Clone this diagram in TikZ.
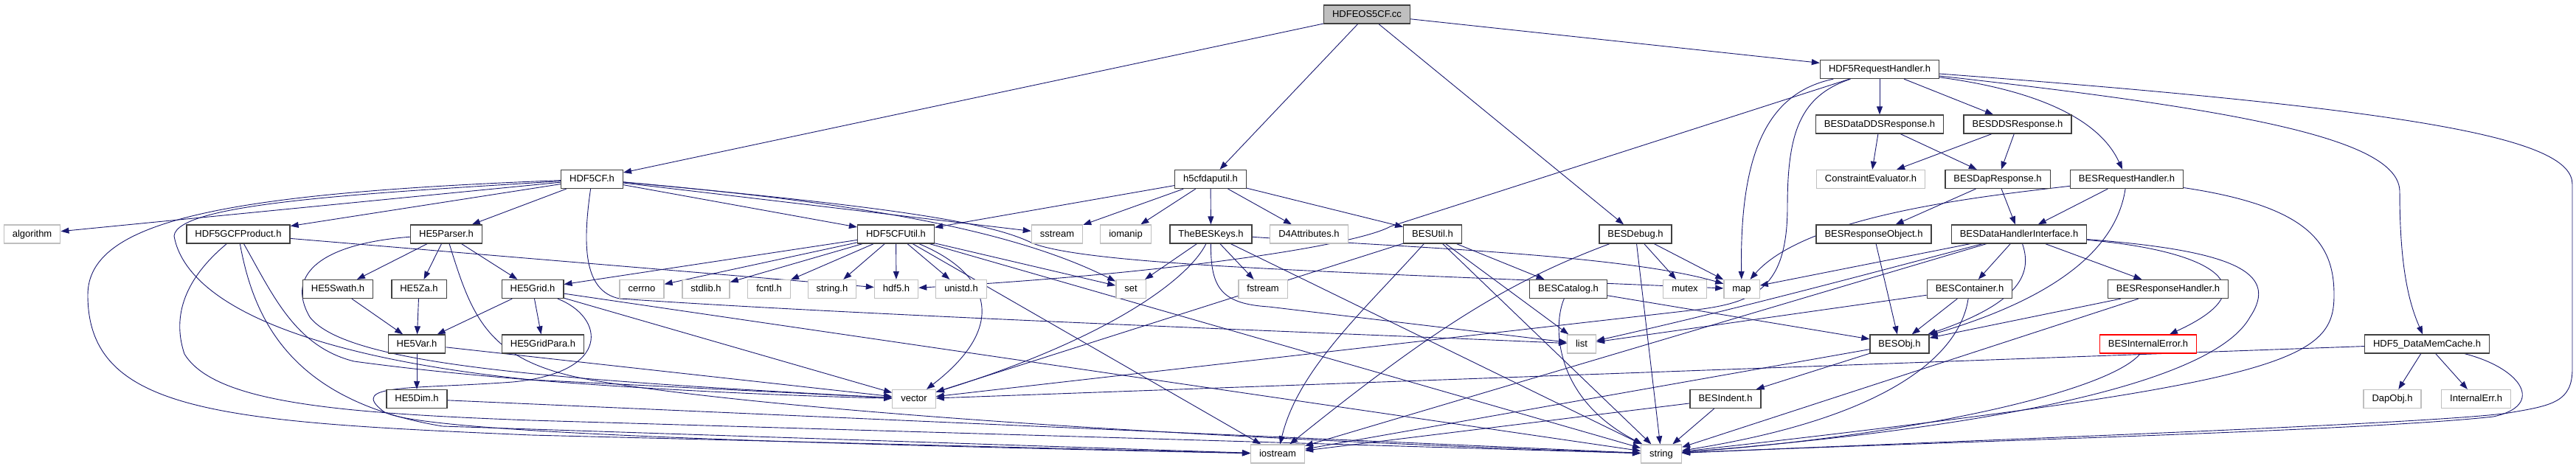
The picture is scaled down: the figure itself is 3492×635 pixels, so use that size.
\documentclass[tikz,border=0pt]{standalone}
\usepackage{fontspec}
\setmainfont{Liberation Sans}
\usetikzlibrary{arrows.meta,backgrounds}
\definecolor{edgeblue}{HTML}{191970}
\definecolor{boxgray}{HTML}{BFBFBF}
\begin{document}
\begin{tikzpicture}[
        x=1pt,
        y=-1pt,
        filebox/.style={draw=black!75, line width=1.3pt, fill=white, minimum height=25pt,
            inner xsep=11.5pt, inner ysep=0pt, text height=9.5pt, text depth=2.5pt,
            font=\fontsize{13}{15}\selectfont},
        doc/.style={filebox},
        sys/.style={filebox, draw=boxgray},
        rootfile/.style={filebox, fill=boxgray},
        trunc/.style={filebox, draw=red},
        conn/.style={draw=edgeblue, line width=0.9pt, -{Triangle[length=11pt,width=8pt]}}
    ]
    \useasboundingbox (0,0) rectangle (3492,635);
    % rows 0-3
    \node[rootfile] (root) at (1853,19.5) {HDFEOS5CF.cc};
    \node[doc] (hreq) at (2548,94) {HDF5RequestHandler.h};
    \node[doc] (bdds) at (2548,168.5) {BESDataDDSResponse.h};
    \node[doc] (bddsr) at (2735,168.5) {BESDDSResponse.h};
    \node[doc] (hcf) at (802.5,243) {HDF5CF.h};
    \node[doc] (hdap) at (1641,243) {h5cfdaputil.h};
    \node[sys] (ceval) at (2536,243) {ConstraintEvaluator.h};
    \node[doc] (bdap) at (2708,243) {BESDapResponse.h};
    \node[doc] (breq) at (2883,243) {BESRequestHandler.h};
    % row 4
    \node[sys] (algo) at (43.6,317.5) {algorithm};
    \node[doc] (hgcf) at (323,317.5) {HDF5GCFProduct.h};
    \node[doc] (hpar) at (605,317.5) {HE5Parser.h};
    \node[doc] (hutil) at (1214.5,317.5) {HDF5CFUtil.h};
    \node[sys] (sstr) at (1433,317.5) {sstream};
    \node[sys] (ioman) at (1526,317.5) {iomanip};
    \node[doc] (keys) at (1641.5,317.5) {TheBESKeys.h};
    \node[sys] (d4at) at (1774.5,317.5) {D4Attributes.h};
    \node[doc] (butil) at (1942,317.5) {BESUtil.h};
    \node[doc] (bdbg) at (2217,317.5) {BESDebug.h};
    \node[doc] (bresp) at (2540,317.5) {BESResponseObject.h};
    \node[doc] (bdhi) at (2737,317.5) {BESDataHandlerInterface.h};
    % row 5
    \node[doc] (hswath) at (458,392) {HE5Swath.h};
    \node[doc] (hza) at (568,392) {HE5Za.h};
    \node[doc] (hgrid) at (722,392) {HE5Grid.h};
    \foreach \nm/\lbl/\xx in {cerrno/cerrno/870, stdlib/stdlib.h/957, fcntl/fcntl.h/1042.6,
            strh/string.h/1128, hdf/hdf5.h/1215, unistd/unistd.h/1303} {
        \node[sys] (\nm) at (\xx,392) {\lbl};
    }
    \node[sys] (set) at (1533,392) {set};
    \node[sys] (fstr) at (1712,392) {fstream};
    \node[doc] (bcat) at (2126,392) {BESCatalog.h};
    \node[sys] (mutex) at (2284,392) {mutex};
    \node[sys] (map) at (2361,392) {map};
    \node[doc] (bcont) at (2670,392) {BESContainer.h};
    \node[doc] (brh) at (2939,392) {BESResponseHandler.h};
    % rows 6-8
    \node[doc] (hvar) at (565,466.5) {HE5Var.h};
    \node[doc] (hgpara) at (736,466.5) {HE5GridPara.h};
    \node[sys] (list) at (2144,466.5) {list};
    \node[doc] (bobj) at (2575,466.5) {BESObj.h};
    \node[trunc] (berr) at (2912,466.5) {BESInternalError.h};
    \node[doc] (hcache) at (3290,466.5) {HDF5\_DataMemCache.h};
    \node[doc] (hdim) at (565,541) {HE5Dim.h};
    \node[sys] (vec) at (1239,541) {vector};
    \node[doc] (bind) at (2339,541) {BESIndent.h};
    \node[sys] (dapobj) at (3243,541) {DapObj.h};
    \node[sys] (ierr) at (3356.6,541) {InternalErr.h};
    \node[sys] (iostr) at (1732,615.5) {iostream};
    \node[sys] (str) at (2252,615.5) {string};
    \begin{pgfonlayer}{background}
    % straight edges
    \foreach \t in {hcf,hdap,bdbg,hreq} { \draw[conn] (root) -- (\t); }
    \foreach \t in {algo,hgcf,hpar,hutil,sstr} { \draw[conn] (hcf) -- (\t); }
    \draw[conn] (hgcf) -- (hdf);
    \foreach \t in {hswath,hza,hgrid} { \draw[conn] (hpar) -- (\t); }
    \draw[conn] (hswath) -- (hvar);
    \draw[conn] (hza) -- (hvar);
    \foreach \t in {hvar,hgpara,vec,str} { \draw[conn] (hgrid) -- (\t); }
    \draw[conn] (hvar) -- (hdim);
    \draw[conn] (hvar) -- (vec);
    \draw[conn] (hdim) -- (str);
    \foreach \t in {hgrid,cerrno,stdlib,fcntl,strh,hdf,unistd,set,iostr,str} { \draw[conn] (hutil) -- (\t); }
    \foreach \t in {hutil,sstr,ioman,keys,d4at,butil} { \draw[conn] (hdap) -- (\t); }
    \foreach \t in {set,fstr,str} { \draw[conn] (keys) -- (\t); }
    \foreach \t in {bcat,list,vec,str} { \draw[conn] (butil) -- (\t); }
    \draw[conn] (bcat) -- (bobj);
    \foreach \t in {mutex,map,str} { \draw[conn] (bdbg) -- (\t); }
    \draw[conn] (hreq) -- (bdds);
    \draw[conn] (hreq) -- (bddsr);
    \foreach \s in {bdds,bddsr} {
        \draw[conn] (\s) -- (ceval);
        \draw[conn] (\s) -- (bdap);
    }
    \draw[conn] (bdap) -- (bresp);
    \draw[conn] (bdap) -- (bdhi);
    \draw[conn] (breq) -- (bdhi);
    \draw[conn] (bresp) -- (bobj);
    \foreach \t in {map,bcont,brh,iostr} { \draw[conn] (bdhi) -- (\t); }
    \draw[conn] (bcont) -- (list);
    \draw[conn] (bcont) -- (bobj);
    \draw[conn] (brh) -- (bobj);
    \draw[conn] (brh) -- (str);
    \draw[conn] (bobj) -- (bind);
    \draw[conn] (bobj) -- (iostr);
    \draw[conn] (bind) -- (str);
    \draw[conn] (bind) -- (iostr);
    \foreach \t in {dapobj,ierr,vec} { \draw[conn] (hcache) -- (\t); }
    % curved edges, left part
    \draw[conn] (hcf) .. controls (300,262) and (119,300) .. (119,400) .. controls (119,560) and (300,572) .. (720,590) -- (iostr);
    \draw[conn] (hcf) .. controls (500,262) and (240,275) .. (236,320) .. controls (250,400) and (380,480) .. (720,515) -- (vec);
    \draw[conn] (hcf) .. controls (790,330) and (790,395) .. (840,405) .. controls (1200,430) and (1900,455) .. (list);
    \draw[conn] (hcf) .. controls (1100,270) and (1350,300) .. (set);
    \draw[conn] (hcf) .. controls (1200,280) and (1340,300) .. (1400,330) .. controls (1480,360) and (1800,368) .. (map);
    \draw[conn] (hgcf) .. controls (370,400) and (400,470) .. (480,490) .. controls (700,520) and (1000,535) .. (vec);
    \draw[conn] (hgcf) .. controls (260,370) and (230,420) .. (250,480) .. controls (290,545) and (450,560) .. (720,570) -- (str);
    \draw[conn] (hgcf) .. controls (345,440) and (400,545) .. (600,578) -- (iostr);
    \draw[conn] (hpar) .. controls (440,330) and (385,370) .. (420,430) .. controls (470,495) and (750,515) .. (vec);
    \draw[conn] (hpar) .. controls (640,430) and (660,490) .. (800,515) .. controls (1000,550) and (1500,590) .. (str);
    \draw[conn] (hgrid) .. controls (820,430) and (830,505) .. (695,518) .. controls (560,528) and (470,520) .. (520,558) .. controls (560,585) and (1000,600) .. (iostr);
    \draw[conn] (hutil) .. controls (1340,370) and (1370,440) .. (vec);
    \draw[conn] (keys) .. controls (1641,390) and (1655,412) .. (1720,416) -- (list);
    \draw[conn] (keys) .. controls (1900,335) and (2200,345) .. (map);
    \draw[conn] (keys) .. controls (1610,380) and (1500,460) .. (vec);
    \draw[conn] (butil) .. controls (1850,420) and (1760,500) .. (iostr);
    \draw[conn] (bdbg) .. controls (2050,380) and (1950,440) .. (iostr);
    % curved edges, right part
    \draw[conn] (hreq) .. controls (2400,125) and (2358,200) .. (map);
    \draw[conn] (hreq) .. controls (2440,130) and (2423,180) .. (2423,280) .. controls (2423,390) and (2380,410) .. (2300,420) -- (vec);
    \draw[conn] (hreq) -- (1885,307) .. controls (1840,332) and (1600,370) .. (hdf);
    \draw[conn] (hreq) .. controls (2780,125) and (2850,170) .. (breq);
    \draw[conn] (hreq) .. controls (3050,150) and (3253,190) .. (3253,260) .. controls (3253,360) and (3265,410) .. (hcache);
    \draw[conn] (hreq) .. controls (3300,150) and (3487,190) .. (3487,250) -- (3487,500) .. controls (3487,545) and (3460,550) .. (3400,560) .. controls (3300,575) and (2600,600) .. (str);
    \draw[conn] (breq) .. controls (3130,280) and (3164,330) .. (3164,400) .. controls (3164,490) and (3100,520) .. (str);
    \draw[conn] (breq) .. controls (2700,265) and (2450,290) .. (map);
    \draw[conn] (breq) .. controls (2870,330) and (2800,400) .. (bobj);
    \draw[conn] (bdhi) .. controls (3000,340) and (3080,390) .. (berr);
    \draw[conn] (bdhi) .. controls (3030,340) and (3090,370) .. (3050,430) .. controls (3000,520) and (2700,580) .. (str);
    \draw[conn] (bdhi) .. controls (2755,370) and (2740,410) .. (bobj);
    \draw[conn] (bdhi) .. controls (2500,380) and (2350,420) .. (list);
    \draw[conn] (bcont) .. controls (2660,460) and (2600,560) .. (str);
    \draw[conn] (bcat) .. controls (2105,440) and (2105,540) .. (str);
    \draw[conn] (berr) .. controls (2860,530) and (2600,590) .. (str);
    \draw[conn] (hcache) .. controls (3420,500) and (3450,550) .. (3380,565) .. controls (3200,585) and (2600,600) .. (str);
    \end{pgfonlayer}
\end{tikzpicture}
\end{document}
